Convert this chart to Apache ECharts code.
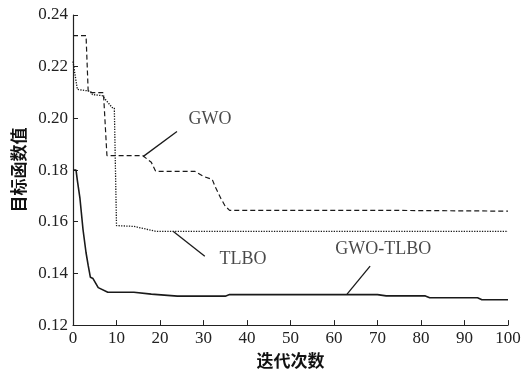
<!DOCTYPE html>
<html><head><meta charset="utf-8">
<script src="https://cdn.jsdelivr.net/npm/echarts@6/dist/echarts.min.js"></script>
<style>html,body{margin:0;padding:0;background:#fff}#c{width:526px;height:374px}</style>
</head><body><div id="c"></div>
<script>
// Data
var gwoX = [0, 3, 3.5, 7, 7.8, 16, 18, 19, 28, 30, 32, 32.7, 34, 35, 36, 72, 100];
var gwoY = [0.232, 0.232, 0.210, 0.210, 0.1856, 0.1856, 0.183, 0.1795, 0.1795, 0.1775, 0.1764, 0.1735, 0.169, 0.166, 0.1644, 0.1644, 0.1641];
var tlboX = [0, 1, 4, 4.5, 6.7, 9, 9.5, 10, 14, 18, 19, 100];
var tlboY = [0.222, 0.2112, 0.2105, 0.2092, 0.2088, 0.2042, 0.2040, 0.1585, 0.1582, 0.1567, 0.1563, 0.1563];
var hybX = [0, 0.7, 1, 1.6, 2.3, 3, 3.5, 4, 4.6, 5.8, 8, 14, 18, 24, 35, 36, 70, 72, 81, 82, 93, 94, 100];
var hybY = [0.180, 0.180, 0.176, 0.169, 0.157, 0.148, 0.143, 0.1385, 0.138, 0.1345, 0.1327, 0.1327, 0.132, 0.1312, 0.1312, 0.1318, 0.1318, 0.1313, 0.1313, 0.1306, 0.1306, 0.1298, 0.1298];
var seriesNames = ['GWO', 'TLBO', 'GWO-TLBO'];
// annotation pointers (data coords) and label anchors
var ptrX = [[16.1, 23.9], [23, 30.3], [63, 68.3]];
var ptrY = [[0.1852, 0.1949], [0.1563, 0.1466], [0.132, 0.1428]];
var labX = [31.5, 39.1, 71.3];
var labY = [0.1995, 0.1455, 0.1494];
var xTicks = {min: 0, max: 100, interval: 10};
var yTicks = {min: 0.12, max: 0.24, interval: 0.02};
var xTitle = '迭代次数';
var yTitle = '目标函数值';

function pairs(xs, ys) { return xs.map(function (x, i) { return [x, ys[i]]; }); }

var chart = echarts.init(document.getElementById('c'), null, {renderer: 'canvas'});
var serif = '"Liberation Serif", "Times New Roman", serif';
var cjk = '"Noto Sans CJK SC", sans-serif';
var styles = [
  {type: [5, 3], width: 1.2},
  {type: [1.3, 1.3], width: 1.3},
  {type: 'solid', width: 1.6}
];
var dataSets = [pairs(gwoX, gwoY), pairs(tlboX, tlboY), pairs(hybX, hybY)];
var series = [];
dataSets.forEach(function (d, i) {
  series.push({
    name: seriesNames[i], type: 'line', data: d, showSymbol: false, symbol: 'none',
    lineStyle: {color: '#1a1a1a', width: styles[i].width, type: styles[i].type},
    animation: false, z: 3
  });
  series.push({
    type: 'line', data: pairs(ptrX[i], ptrY[i]), showSymbol: false, symbol: 'none',
    lineStyle: {color: '#1a1a1a', width: 1.3}, animation: false, silent: true
  });
});
series.push({
  type: 'scatter', symbolSize: 0, animation: false, silent: true,
  data: labX.map(function (x, i) { return {value: [x, labY[i]], name: seriesNames[i]}; }),
  label: {show: true, position: 'inside', formatter: '{b}', color: '#1a1a1a',
          fontFamily: serif, fontSize: 18}
});

chart.setOption({
  backgroundColor: '#fff',
  animation: false,
  grid: {left: 73, right: 18, top: 15, bottom: 48},
  xAxis: {
    type: 'value', min: xTicks.min, max: xTicks.max, interval: xTicks.interval,
    name: xTitle, nameLocation: 'middle', nameGap: 25,
    nameTextStyle: {fontFamily: cjk, fontSize: 17, color: '#111', fontWeight: 'bold'},
    axisLine: {show: true, lineStyle: {color: '#222', width: 1.2}},
    axisTick: {show: true, inside: true, length: 5, lineStyle: {color: '#222'}},
    axisLabel: {fontFamily: serif, fontSize: 17, color: '#222', margin: 5},
    splitLine: {show: false}
  },
  yAxis: {
    type: 'value', min: yTicks.min, max: yTicks.max, interval: yTicks.interval,
    name: yTitle, nameLocation: 'middle', nameGap: 44, nameRotate: 90,
    nameTextStyle: {fontFamily: cjk, fontSize: 17, color: '#111', fontWeight: 'bold'},
    axisLine: {show: true, lineStyle: {color: '#222', width: 1.2}},
    axisTick: {show: true, inside: true, length: 5, lineStyle: {color: '#222'}},
    axisLabel: {fontFamily: serif, fontSize: 17, color: '#222', margin: 5,
                formatter: function (v) { return v.toFixed(2); }},
    splitLine: {show: false}
  },
  series: series
});
</script></body></html>
